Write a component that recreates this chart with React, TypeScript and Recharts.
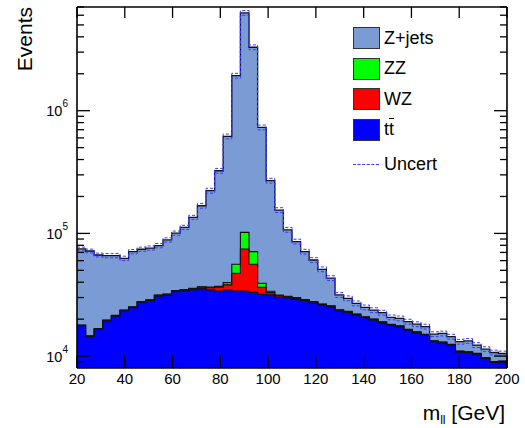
import { ComposedChart, Area, Line, XAxis, YAxis, ReferenceLine, Legend } from 'recharts';

// lower bin edges (GeV), 50 bins of 3.6 GeV
const binLow = [
  20, 23.6, 27.2, 30.8, 34.4, 38, 41.6, 45.2, 48.8, 52.4,
  56, 59.6, 63.2, 66.8, 70.4, 74, 77.6, 81.2, 84.8, 88.4,
  92, 95.6, 99.2, 102.8, 106.4, 110, 113.6, 117.2, 120.8, 124.4,
  128, 131.6, 135.2, 138.8, 142.4, 146, 149.6, 153.2, 156.8, 160.4,
  164, 167.6, 171.2, 174.8, 178.4, 182, 185.6, 189.2, 192.8, 196.4,
];
const xMax = 200;

const ttbar = [
  17700, 14400, 16500, 19400, 21200, 23400, 24800, 27400, 28300, 30900,
  31500, 33500, 34100, 34700, 35400, 34600, 33900, 34600, 33900, 33900,
  33100, 31800, 31500, 30200, 29800, 29200, 28300, 27200, 26000, 25200,
  23400, 22700, 21600, 20560, 19700, 18700, 17900, 17400, 16300, 15500,
  14800, 13100, 12800, 12300, 10800, 10700, 10400, 9580, 8880, 8990,
];
const wz = [
  150, 150, 170, 200, 220, 250, 280, 320, 350, 400,
  450, 500, 600, 800, 1100, 1500, 2500, 3500, 13400, 40800,
  22900, 4600, 1400, 800, 600, 500, 450, 400, 380, 350,
  330, 300, 280, 260, 240, 220, 200, 190, 180, 170,
  160, 150, 140, 130, 120, 110, 100, 95, 90, 85,
];
const zz = [
  60, 60, 70, 80, 90, 100, 110, 120, 130, 140,
  150, 180, 200, 250, 300, 400, 600, 1600, 8700, 27300,
  15000, 2800, 900, 400, 300, 250, 200, 180, 170, 160,
  150, 140, 130, 120, 110, 100, 95, 90, 85, 80,
  75, 70, 65, 60, 55, 50, 48, 45, 42, 40,
];
const zjets = [
  56800, 57300, 49960, 46220, 44390, 38950, 45810, 46460, 47220, 48060,
  56400, 66320, 77100, 99250, 131200, 186500, 287000, 577300, 1874000, 6168000,
  3219000, 691800, 235200, 123600, 76300, 55850, 42050, 32920, 24450, 17490,
  7620, 6460, 4890, 4020, 3650, 3580, 2505, 2620, 2535, 2450,
  2365, 1780, 2295, 1910, 2125, 2440, 1752, 1680, 1688, 1385,
];
// relative uncertainty (%) per bin
const uncertPct = [
  3.5, 3.5, 3.5, 4, 4, 4, 4, 4, 4, 4,
  4, 4, 4, 4, 4.5, 4.5, 4.5, 4.5, 4.5, 4.5,
  4.5, 4.5, 4.5, 4.5, 4.5, 4.5, 4.5, 4.5, 4.5, 4.5,
  4.5, 4.5, 4.5, 4.5, 4.5, 4.5, 4.5, 4.5, 4.5, 4.5,
  4.5, 4.5, 4.5, 4.5, 4.5, 4.5, 4.5, 4.5, 4.5, 4.5,
];

const xTicks = [20, 40, 60, 80, 100, 120, 140, 160, 180, 200];
const yTicks = [
  9000, 10000, 20000, 30000, 40000, 50000, 60000, 70000, 80000, 90000,
  100000, 200000, 300000, 400000, 500000, 600000, 700000, 800000, 900000,
  1000000, 2000000, 3000000, 4000000, 5000000, 6000000, 7000000,
];
const yDomain = [8000, 7000000];

const colors = {
  zjets: '#7b9bd4',
  zz: '#00ff00',
  wz: '#ff0000',
  tt: '#0000ff',
  uncert: '#3a3aff',
};

const W = 525;
const H = 428;
const LEFT = 77;
const RIGHT = 18;
const TOP = 7;
const BOTTOM = 60;
const PLOT_W = W - LEFT - RIGHT;
const PLOT_H = H - TOP - BOTTOM;
const FONT = '"Liberation Sans", Arial, Helvetica, sans-serif';

// stacked (cumulative) values, plus a closing point at the upper edge
const rows = binLow.map((x, i) => {
  const s1 = ttbar[i];
  const s2 = s1 + wz[i];
  const s3 = s2 + zz[i];
  const s4 = s3 + zjets[i];
  return {
    x,
    tt: s1,
    wz: s2,
    zz: s3,
    zjets: s4,
    up: s4 * (1 + uncertPct[i] / 100),
    dn: s4 * (1 - uncertPct[i] / 100),
  };
});
const data = [...rows, { ...rows[rows.length - 1], x: xMax }];

const YTick = (props: any) => {
  const { x, y, payload } = props;
  const v = payload.value;
  const exp = Math.round(Math.log10(v));
  const major = Math.abs(v - Math.pow(10, exp)) < 1e-6 * v;
  const len = major ? 13 : 7;
  return (
    <g>
      <line x1={x} x2={x + len} y1={y} y2={y} stroke="#000" strokeWidth={1.3} />
      <line x1={x + PLOT_W} x2={x + PLOT_W - len} y1={y} y2={y} stroke="#000" strokeWidth={1.3} />
      {major && (
        <text x={x - 9} y={y + 5.5} textAnchor="end" fontSize={14.5} fontFamily={FONT} fill="#000">
          10
          <tspan dy={-9} fontSize={10}>{exp}</tspan>
        </text>
      )}
    </g>
  );
};

const XTick = (props: any) => {
  const { x, y, payload } = props;
  return (
    <g>
      <line x1={x} x2={x} y1={y} y2={y - 12} stroke="#000" strokeWidth={1.3} />
      <line x1={x} x2={x} y1={y - PLOT_H} y2={y - PLOT_H + 11} stroke="#000" strokeWidth={1.3} />
      <text x={x} y={y + 16} textAnchor="middle" fontSize={15} fontFamily={FONT} fill="#000">
        {payload.value}
      </text>
    </g>
  );
};

const legendItems = [
  { key: 'zjets', label: 'Z+jets' },
  { key: 'zz', label: 'ZZ' },
  { key: 'wz', label: 'WZ' },
  { key: 'tt', label: 'tt' },
  { key: 'uncert', label: 'Uncert' },
];

const LegendBox = () => (
  <div style={{ fontFamily: FONT, fontSize: 18, color: '#000' }}>
    {legendItems.map((it) => (
      <div
        key={it.key}
        style={{ display: 'flex', alignItems: 'center', height: 30.5, marginTop: it.key === 'uncert' ? 4 : 0 }}
      >
        {it.key === 'uncert' ? (
          <div style={{ width: 26, height: 0, borderTop: `1px dashed ${colors.uncert}`, marginRight: 5 }} />
        ) : (
          <div
            style={{
              width: 25,
              height: 20,
              background: (colors as any)[it.key],
              border: '1px solid #333',
              marginRight: 4,
            }}
          />
        )}
        {it.key === 'tt' ? (
          <span>
            t<span style={{ textDecoration: 'overline' }}>t</span>
          </span>
        ) : (
          <span>{it.label}</span>
        )}
      </div>
    ))}
  </div>
);

export default function App() {
  return (
    <div style={{ position: 'absolute', left: 0, top: 0, background: '#fff' }}>
      <ComposedChart width={W} height={H} data={data} margin={{ top: TOP, right: RIGHT, bottom: 0, left: 0 }}>
        <Area type="stepAfter" dataKey="zjets" fill={colors.zjets} fillOpacity={1} stroke="#111" strokeWidth={1.3} isAnimationActive={false} />
        <Area type="stepAfter" dataKey="zz" fill={colors.zz} fillOpacity={1} stroke="#111" strokeWidth={1.1} isAnimationActive={false} />
        <Area type="stepAfter" dataKey="wz" fill={colors.wz} fillOpacity={1} stroke="#111" strokeWidth={1.1} isAnimationActive={false} />
        <Area type="stepAfter" dataKey="tt" fill={colors.tt} fillOpacity={1} stroke="#111" strokeWidth={1.3} isAnimationActive={false} />
        <Line type="stepAfter" dataKey="up" stroke={colors.uncert} strokeWidth={1} strokeDasharray="3 2" dot={false} isAnimationActive={false} />
        <Line type="stepAfter" dataKey="dn" stroke={colors.uncert} strokeWidth={1} strokeDasharray="3 2" dot={false} isAnimationActive={false} />
        <ReferenceLine y={yDomain[1]} stroke="#000" strokeWidth={1.6} />
        <ReferenceLine x={xMax} stroke="#000" strokeWidth={1.6} />
        <XAxis
          dataKey="x"
          type="number"
          domain={[20, 200]}
          ticks={xTicks}
          allowDataOverflow
          height={BOTTOM}
          tickSize={0}
          tickMargin={0}
          tickLine={false}
          axisLine={{ stroke: '#000', strokeWidth: 1.6 }}
          tick={(p: any) => <XTick {...p} />}
          interval={0}
          label={{
            content: () => (
              <text x={505} y={420} textAnchor="end" fontSize={21} fontFamily={FONT} fill="#000">
                m<tspan fontSize={12} dy={4}>ll</tspan>
                <tspan dy={-4}> [GeV]</tspan>
              </text>
            ),
          }}
        />
        <YAxis
          type="number"
          scale="log"
          domain={yDomain}
          ticks={yTicks}
          allowDataOverflow
          width={LEFT}
          tickSize={0}
          tickMargin={0}
          tickLine={false}
          axisLine={{ stroke: '#000', strokeWidth: 1.6 }}
          tick={(p: any) => <YTick {...p} />}
          interval={0}
          label={{
            content: () => (
              <text x={32} y={7} transform="rotate(-90 32 7)" textAnchor="end" fontSize={21} fontFamily={FONT} fill="#000">
                Events
              </text>
            ),
          }}
        />
        <Legend
          layout="vertical"
          align="center"
          verticalAlign="middle"
          content={() => <LegendBox />}
          wrapperStyle={{ left: 353, top: 23, width: 150 }}
        />
      </ComposedChart>
    </div>
  );
}
